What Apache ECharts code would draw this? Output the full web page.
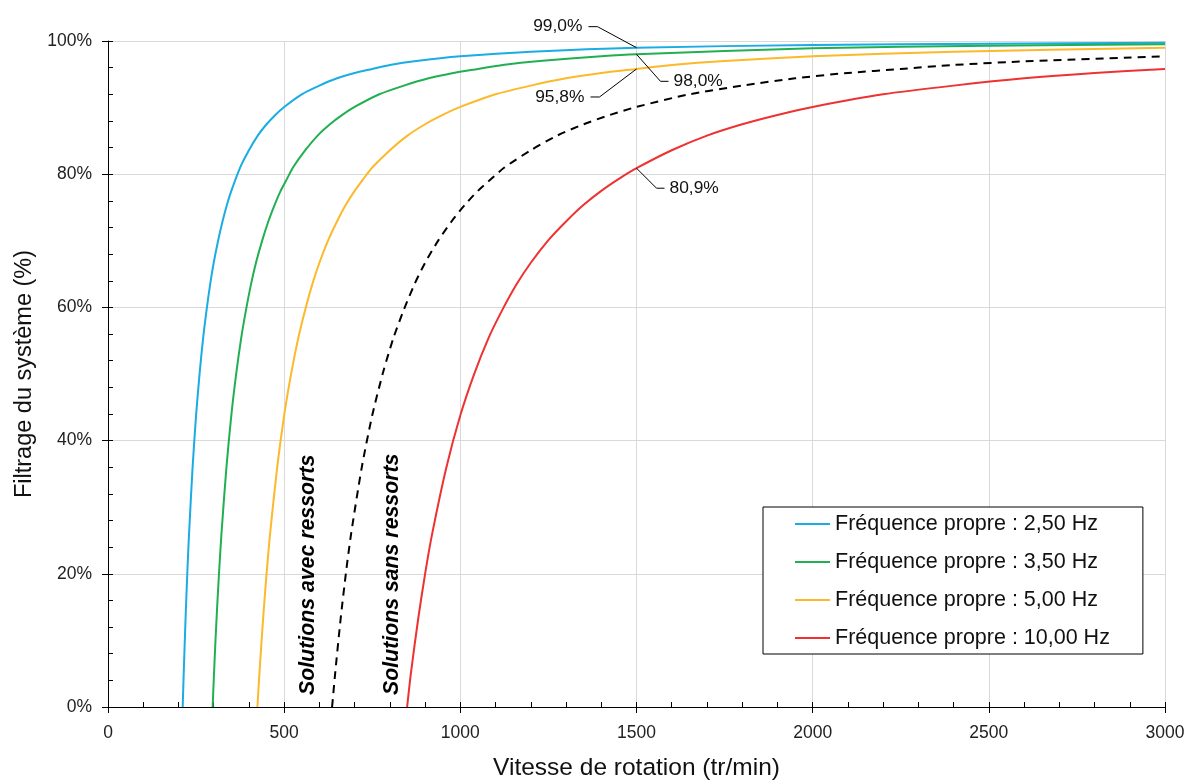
<!DOCTYPE html>
<html><head><meta charset="utf-8">
<script src="https://cdn.jsdelivr.net/npm/echarts@6/dist/echarts.min.js"></script>
<style>html,body{margin:0;padding:0;background:#fff;overflow:hidden}#c{width:1184px;height:780px}</style>
</head><body><div id="c"></div>
<script>
// ---- data ----
const seriesNames = ['Fréquence propre : 2,50 Hz','Fréquence propre : 3,50 Hz','Fréquence propre : 5,00 Hz','Fréquence propre : 10,00 Hz','Limite'];
const rpm250 = [212,215,220,225,230,240,250,260,270,280,290,300,312,325,338,350,375,400,425,450,475,500,550,600,650,700,750,800,875,1000,1200,1500,2000,2500,3000];
const val250 = [0,5.2,13.1,20.0,26.0,35.9,43.8,50.1,55.4,59.7,63.5,66.7,69.9,72.9,75.5,77.5,81.0,83.6,85.8,87.5,88.9,90.1,92.0,93.3,94.4,95.2,95.8,96.4,97.0,97.7,98.4,99.0,99.4,99.6,99.75];
const rpm350 = [297,300,305,310,315,322,336,350,364,378,392,406,420,438,455,473,490,508,525,560,595,630,665,700,770,840,910,980,1050,1120,1225,1400,1500,2000,2500,3000];
const val350 = [0,3.9,9.9,15.2,20.0,26.0,35.9,43.8,50.1,55.4,59.7,63.5,66.7,70.1,72.9,75.4,77.5,79.3,81.0,83.6,85.8,87.5,88.9,90.1,92.0,93.3,94.4,95.2,95.8,96.4,97.0,97.7,98.0,98.9,99.3,99.5];
const rpm500 = [424,430,440,450,460,480,500,520,540,560,580,600,625,650,675,700,725,750,800,850,900,950,1000,1100,1200,1300,1400,1500,1600,1750,2000,2400,3000];
const val500 = [0,5.2,13.1,20.0,26.0,35.9,43.8,50.1,55.4,59.7,63.5,66.7,70.1,72.9,75.4,77.5,79.3,81.0,83.6,85.8,87.5,88.9,90.1,92.0,93.3,94.4,95.2,95.8,96.4,97.0,97.7,98.4,99.0];
const rpm1000 = [849,860,880,900,920,960,1000,1040,1080,1120,1160,1200,1250,1300,1350,1400,1450,1500,1600,1700,1800,1900,2000,2200,2400,2600,2800,3000];
const val1000 = [0,5.2,13.1,20.0,26.0,35.9,43.8,50.1,55.4,59.7,63.5,66.7,70.1,72.9,75.4,77.5,79.3,80.9,83.6,85.8,87.5,88.9,90.1,92.0,93.3,94.4,95.2,95.8];
const rpmLim = [636,645,660,675,690,720,750,780,810,840,870,900,938,975,1013,1050,1088,1125,1200,1275,1350,1425,1500,1650,1800,1950,2100,2250,2400,2625,3000];
const valLim = [0,5.2,13.1,20.0,26.0,35.9,43.8,50.1,55.4,59.7,63.5,66.7,70.1,72.9,75.4,77.5,79.3,81.0,83.6,85.8,87.5,88.9,90.1,92.0,93.3,94.4,95.2,95.8,96.4,97.0,97.7];
const xTicks = [0,500,1000,1500,2000,2500,3000];
const yTicks = [0,20,40,60,80,100];
const calloutRpm = 1500;
const zoneTexts = ['Solutions avec ressorts','Solutions sans ressorts'];

// ---- styles ----
const colors = ['#1AACE3','#22AF52','#FBB92B','#EE3131','#000000'];
const FONT = "'Liberation Sans', Arial, sans-serif";
const pairs = (xs, ys) => xs.map((x, i) => [x, ys[i]]);
const allData = [pairs(rpm250,val250), pairs(rpm350,val350), pairs(rpm500,val500), pairs(rpm1000,val1000), pairs(rpmLim,valLim)];

const series = allData.map((d, i) => ({
  name: seriesNames[i], type: 'line', data: d, smooth: 0.25, showSymbol: false, symbol: 'none',
  xAxisIndex: 0, yAxisIndex: 0, z: i === 4 ? 3 : 4,
  lineStyle: { color: colors[i], width: 2, type: i === 4 ? [8, 6] : 'solid' },
  itemStyle: { color: colors[i] }
}));

const option = {
  animation: false,
  backgroundColor: '#fff',
  textStyle: { fontFamily: FONT },
  grid: { left: 108, right: 19, top: 41, bottom: 73, containLabel: false, outerBoundsMode: 'none' },
  legend: {
    data: seriesNames.slice(0, 4), orient: 'vertical', left: 763, top: 507,
    padding: [6, 33, 5, 32], itemGap: 16, itemWidth: 35, itemHeight: 2, icon: 'rect',
    backgroundColor: '#fff', borderColor: '#000', borderWidth: 1, borderRadius: 0,
    textStyle: { fontSize: 21.5, color: '#111', fontFamily: FONT, lineHeight: 22 }
  },
  xAxis: [{
    type: 'value', min: xTicks[0], max: xTicks[xTicks.length - 1], interval: xTicks[1] - xTicks[0],
    name: 'Vitesse de rotation (tr/min)', nameLocation: 'middle', nameGap: 49,
    nameTextStyle: { fontSize: 24.5, color: '#111', fontFamily: FONT },
    axisLine: { show: true, onZero: false, lineStyle: { color: '#000', width: 1 } },
    axisTick: { show: true, inside: false, length: 6, lineStyle: { color: '#000' } },
    axisLabel: { fontSize: 17.5, color: '#222', margin: 17, fontFamily: FONT, formatter: v => String(v) },
    splitLine: { show: true, lineStyle: { color: '#d9d9d9', width: 1 } }
  }, {
    type: 'value', min: 0, max: 3000, interval: 100, position: 'bottom',
    axisLine: { show: false }, axisLabel: { show: false }, splitLine: { show: false },
    axisTick: { show: true, inside: true, length: 5, lineStyle: { color: '#000' } }
  }],
  yAxis: [{
    type: 'value', min: yTicks[0], max: yTicks[yTicks.length - 1], interval: yTicks[1] - yTicks[0],
    name: 'Filtrage du système (%)', nameLocation: 'middle', nameGap: 69,
    nameTextStyle: { fontSize: 23.5, color: '#111', fontFamily: FONT },
    axisLine: { show: true, onZero: false, lineStyle: { color: '#000', width: 1 } },
    axisTick: { show: true, inside: false, length: 6, lineStyle: { color: '#000' } },
    axisLabel: { fontSize: 17.5, color: '#222', margin: 16, formatter: v => v + '%', fontFamily: FONT },
    splitLine: { show: true, lineStyle: { color: '#d9d9d9', width: 1 } }
  }, {
    type: 'value', min: 0, max: 100, interval: 4, position: 'left',
    axisLine: { show: false }, axisLabel: { show: false }, splitLine: { show: false },
    axisTick: { show: true, inside: true, length: 5, lineStyle: { color: '#000' } }
  }],
  series: series
};

const chart = echarts.init(document.getElementById('c'));
chart.setOption(option);

// ---- annotations computed from data via axes ----
const px = (x, y) => chart.convertToPixel({ xAxisIndex: 0, yAxisIndex: 0 }, [x, y]);
const valueAt = (xs, ys, x) => ys[xs.indexOf(x)];
const fmt = v => v.toFixed(1).replace('.', ',') + '%';
const callouts = [
  { xs: rpm250, ys: val250, d1: [-39, -21], d2: [-48, -21], side: 'left' },
  { xs: rpm350, ys: val350, d1: [24, 27], d2: [32, 27], side: 'right' },
  { xs: rpm500, ys: val500, d1: [-37, 28], d2: [-46, 28], side: 'left' },
  { xs: rpm1000, ys: val1000, d1: [20, 20], d2: [28, 20], side: 'right' }
];
const graphics = [];
callouts.forEach(c => {
  const v = valueAt(c.xs, c.ys, calloutRpm);
  const p = px(calloutRpm, v);
  const a = [p[0] + c.d1[0], p[1] + c.d1[1]];
  const b = [p[0] + c.d2[0], p[1] + c.d2[1]];
  graphics.push({ type: 'polyline', z: 100, shape: { points: [p, a, b] }, style: { stroke: '#000', lineWidth: 1, fill: null } });
  graphics.push({ type: 'text', z: 100, x: b[0] + (c.side === 'left' ? -6 : 5), y: b[1],
    style: { text: fmt(v), fontSize: 17.4, fontFamily: FONT, fill: '#111',
      align: c.side === 'left' ? 'right' : 'left', verticalAlign: 'middle' } });
});
const zoneAnchors = [[568, 1.8], [806, 1.8]];
zoneTexts.forEach((t, i) => {
  const p = px(zoneAnchors[i][0], zoneAnchors[i][1]);
  graphics.push({ type: 'text', z: 100, x: p[0], y: p[1], rotation: Math.PI / 2,
    style: { text: t, fontSize: 21.3, fontWeight: 'bold', fontStyle: 'italic', fontFamily: FONT, fill: '#000',
      align: 'left', verticalAlign: 'middle' } });
});
chart.setOption({ graphic: graphics });
</script>
</body></html>
